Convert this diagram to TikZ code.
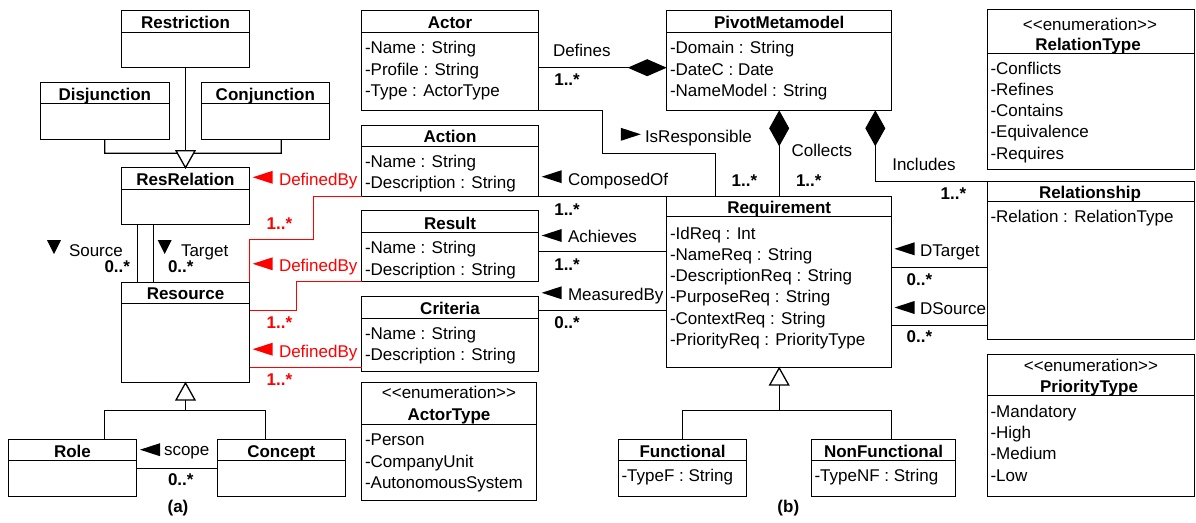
\documentclass[tikz,border=0pt]{standalone}
\usepackage{fontspec}
\setmainfont{Liberation Sans}
\usetikzlibrary{arrows.meta}
\newcommand{\cls}[6]{%
  \node[clsbox, minimum width={(#4-#2)*1pt}, minimum height={(#5-#3)*1pt}] (#1) at (#2,#3) {};
  \draw[divline] (#2,#6) -- (#4,#6);}
\newcommand{\attrlist}[4]{%
  \foreach \t [count=\i from 0] in {#4} {\node[attr] (#1\i) at (#2,{#3+21.3*\i}) {\t};}}
\newcommand{\tril}[3][black]{\fill[#1] (#2-10,#3) -- (#2+10,#3-6.5) -- (#2+10,#3+6.5) -- cycle;}
\newcommand{\trir}[2]{\fill (#1+10,#2) -- (#1-10,#2-6.5) -- (#1-10,#2+6.5) -- cycle;}
\newcommand{\trid}[2]{\fill (#1,#2+7) -- (#1-7,#2-7) -- (#1+7,#2-7) -- cycle;}
% open generalization triangle, apex at (#1,#2); #3 = +1 base below, -1 base above
\newcommand{\gentri}[3]{\draw[conn, fill=white, line join=miter] (#1,#2) -- (#1-9.5,#2+#3*17) -- (#1+9.5,#2+#3*17) -- cycle;}
\begin{document}
\begin{tikzpicture}[x=1pt,y=-1pt,
  every node/.style={font=\fontsize{17}{20}\selectfont, inner sep=0pt, outer sep=0pt},
  clsbox/.style={draw, line width=1.4pt, rectangle, anchor=north west, inner sep=0pt, outer sep=0pt},
  divline/.style={line width=1.4pt},
  title/.style={anchor=base, font=\fontsize{17}{20}\selectfont\bfseries},
  stereo/.style={anchor=base},
  attr/.style={anchor=base west},
  lbl/.style={anchor=base west},
  mult/.style={anchor=base west, font=\fontsize{17}{20}\selectfont\bfseries},
  conn/.style={line width=1.3pt},
  redconn/.style={line width=1.3pt, draw=red},
  compH/.style={conn, -{Diamond[length=39pt, width=17pt]}},
  compV/.style={conn, -{Diamond[length=36pt, width=20pt]}},
]
\useasboundingbox (0,0) rectangle (1196,522);

% ---------- (a) ----------
\cls{restriction}{121.3}{10.7}{249.7}{67.7}{32.3}
\node[title] (restrictionT) at (185.5,28.5) {Restriction};
\cls{disj}{40.3}{82.3}{169.3}{139.3}{103.7}
\node[title] (disjT) at (104.8,100) {Disjunction};
\cls{conj}{201.3}{82.3}{329.3}{139.3}{103.7}
\node[title] (conjT) at (265.3,100) {Conjunction};
\cls{resrel}{121.3}{167.7}{249.7}{224.7}{189.3}
\node[title] (resrelT) at (185.5,185.5) {ResRelation};
\cls{resource}{121.3}{282.3}{249.7}{382.3}{303.3}
\node[title] (resourceT) at (185.5,299.5) {Resource};
\cls{role}{8.3}{439.3}{136.7}{496.7}{460.7}
\node[title] (roleT) at (72.5,457) {Role};
\cls{concept}{217.3}{439.3}{345.3}{496.7}{460.7}
\node[title] (conceptT) at (281.3,457) {Concept};

\draw[conn] (restriction.south) -- (resrel.north);
\coordinate (jr1) at (104.7,153.3);
\coordinate (jr2) at (281.3,153.3);
\draw[conn] (disj.south) -- (jr1) -- (jr2) -- (jr2 |- conj.south);
\gentri{185.5}{167.7}{-1}

\draw[conn] (resrel.south -| 137.3,0) -- (resource.north -| 137.3,0);
\draw[conn] (resrel.south -| 153.3,0) -- (resource.north -| 153.3,0);
\trid{54}{247}
\node[lbl] (lSource) at (69,256) {Source};
\node[mult] (mSource) at (104.5,272) {0..*};
\trid{164.7}{247}
\node[lbl] (lTarget) at (181,256) {Target};
\node[mult] (mTarget) at (168,272) {0..*};

\coordinate (jg) at (185.5,410.7);
\draw[conn] (jg) -- (resource.south);
\gentri{185.5}{383}{1}
\draw[conn] (role.north -| 104.3,0) -- (104.3,410.7) -- (265.7,410.7) -- (concept.north -| 265.7,0);

\draw[conn] (role.east |- 0,468.3) -- (concept.west |- 0,468.3);
\tril{150}{449.7}
\node[lbl] (lScope) at (164,455.5) {scope};
\node[mult] (mScope) at (168,485) {0..*};
\node[title] (capA) at (178,512.3) {(a)};

% ---------- (b) ----------
\cls{actor}{361.7}{10.7}{538.3}{110.3}{32.3}
\node[title] (actorT) at (450,28.5) {Actor};
\attrlist{actorA}{365}{53.8}{-Name : String,-Profile : String,-Type : ActorType}

\cls{action}{361.7}{125.3}{538.3}{196.3}{146.3}
\node[title] (actionT) at (450,142.3) {Action};
\attrlist{actionA}{365}{167.5}{-Name : String,-Description : String}

\cls{result}{361.7}{210.7}{538.3}{281.7}{232.7}
\node[title] (resultT) at (450,229) {Result};
\attrlist{resultA}{365}{253.8}{-Name : String,-Description : String}

\cls{criteria}{361.7}{296.7}{538.3}{371.7}{318.3}
\node[title] (criteriaT) at (450,314.6) {Criteria};
\attrlist{criteriaA}{365}{339.6}{-Name : String,-Description : String}

\cls{actortype}{361.7}{382.3}{536.7}{500.7}{424.3}
\node[stereo] (actortypeS) at (449,398.5) {<{}<enumeration>{}>};
\node[title] (actortypeT) at (449,420.8) {ActorType};
\attrlist{actortypeA}{365}{445.7}{-Person,-CompanyUnit,-AutonomousSystem}

\cls{pivot}{666.7}{10.7}{891.7}{110.3}{32.3}
\node[title] (pivotT) at (779.2,28.5) {PivotMetamodel};
\attrlist{pivotA}{670}{53.8}{-Domain : String,-DateC : Date,-NameModel : String}

\cls{req}{666.7}{196.3}{891.7}{367.3}{216.7}
\node[title] (reqT) at (779.2,213) {Requirement};
\attrlist{reqA}{670}{239}{-IdReq : Int,-NameReq : String,-DescriptionReq : String,-PurposeReq : String,-ContextReq : String,-PriorityReq : PriorityType}

\cls{functional}{618.3}{439.3}{746.7}{496.7}{460.7}
\node[title] (functionalT) at (682.5,457) {Functional};
\attrlist{functionalA}{621.5}{481}{-TypeF : String}

\cls{nonfunc}{811.3}{439.3}{955.7}{496.7}{460.7}
\node[title] (nonfuncT) at (883.5,457) {NonFunctional};
\attrlist{nonfuncA}{814.5}{481}{-TypeNF : String}

\cls{reltype}{987.3}{9.3}{1194.7}{169.3}{53.3}
\node[stereo] (reltypeS) at (1090,30) {<{}<enumeration>{}>};
\node[title] (reltypeT) at (1088,50.3) {RelationType};
\attrlist{reltypeA}{990.5}{74}{-Conflicts,-Refines,-Contains,-Equivalence,-Requires}

\cls{relationship}{987.3}{181.7}{1194.7}{339.3}{201.7}
\node[title] (relationshipT) at (1090,198.5) {Relationship};
\attrlist{relationshipA}{990.5}{222.7}{-Relation : RelationType}

\cls{prioritytype}{987.3}{354.3}{1194.7}{496.7}{395.7}
\node[stereo] (prioritytypeS) at (1091,371) {<{}<enumeration>{}>};
\node[title] (prioritytypeT) at (1089,392) {PriorityType};
\attrlist{prioritytypeA}{990.5}{417.3}{-Mandatory,-High,-Medium,-Low}

% red DefinedBy
\draw[redconn] (action.south west) -| (313.3,239.3) -| (resource.north east);
\draw[redconn] (result.south west) -| (296.7,310.7) -- (resource.east |- 0,310.7);
\draw[redconn] (criteria.west |- 0,367.3) -- (resource.east |- 0,367.3);

% connectors (b)
\draw[compH] (actor.east |- 0,67.7) -- (pivot.west |- 0,67.7);
\node[lbl] (lDefines) at (553,56.7) {Defines};
\node[mult] (mDefines) at (554.3,85) {1..*};

\draw[conn] (actor.south east) -- (602.3,110.3) -- (602.3,153.3) -| (req.north -| 715.3,0);
\trir{630.8}{134.3}
\node[lbl] (lIsResp) at (645,142.3) {IsResponsible};
\node[mult] (mIsResp) at (731.7,186.7) {1..*};

\draw[conn] (action.south east) -- (req.north west);
\tril{551.7}{176.7}
\node[lbl] (lComposed) at (568,185.7) {ComposedOf};
\node[mult] (mComposed) at (554.3,215) {1..*};

\draw[conn] (result.east |- 0,251.7) -- (req.west |- 0,251.7);
\tril{551.7}{235.5}
\node[lbl] (lAchieves) at (568,242.3) {Achieves};
\node[mult] (mAchieves) at (554.3,270.7) {1..*};

\draw[conn] (criteria.east |- 0,310.7) -- (req.west |- 0,310.7);
\tril{551.7}{292.8}
\node[lbl] (lMeasured) at (568,300.7) {MeasuredBy};
\node[mult] (mMeasured) at (554.3,328.3) {0..*};

\draw[compV] (req.north) -- (pivot.south);
\node[lbl] (lCollects) at (791.7,156.7) {Collects};
\node[mult] (mCollects) at (796,186.7) {1..*};

\draw[compV] (relationship.north west) -| (pivot.south -| 875.3,0);
\node[lbl] (lIncludes) at (892.3,170.7) {Includes};
\node[mult] (mIncludes) at (940.7,199) {1..*};

\draw[conn] (req.east |- 0,267.3) -- (relationship.west |- 0,267.3);
\tril{904.5}{248.8}
\node[lbl] (lDTarget) at (920,256.7) {DTarget};
\node[mult] (mDTarget) at (906.7,285) {0..*};

\draw[conn] (req.east |- 0,325.3) -- (relationship.west |- 0,325.3);
\tril{904.5}{307.5}
\node[lbl] (lDSource) at (920,314) {DSource};
\node[mult] (mDSource) at (906.7,342.3) {0..*};

\coordinate (jq) at (779.2,410.7);
\draw[conn] (jq) -- (req.south);
\gentri{779.2}{368}{1}
\draw[conn] (functional.north) -- (functional.north |- jq) -- (jq -| 891.7,0) -- (nonfunc.north -| 891.7,0);
\node[title] (capB) at (788.3,512.3) {(b)};

% red labels
\tril[red]{262.7}{177.3}
\node[lbl, text=red] (lDef1) at (279,185.7) {DefinedBy};
\node[mult, text=red] (mDef1) at (266.7,229) {1..*};
\tril[red]{262.7}{263.8}
\node[lbl, text=red] (lDef2) at (279,271.5) {DefinedBy};
\node[mult, text=red] (mDef2) at (266.7,328) {1..*};
\tril[red]{262.7}{349.2}
\node[lbl, text=red] (lDef3) at (279,357) {DefinedBy};
\node[mult, text=red] (mDef3) at (266.7,385) {1..*};
\end{tikzpicture}
\end{document}
